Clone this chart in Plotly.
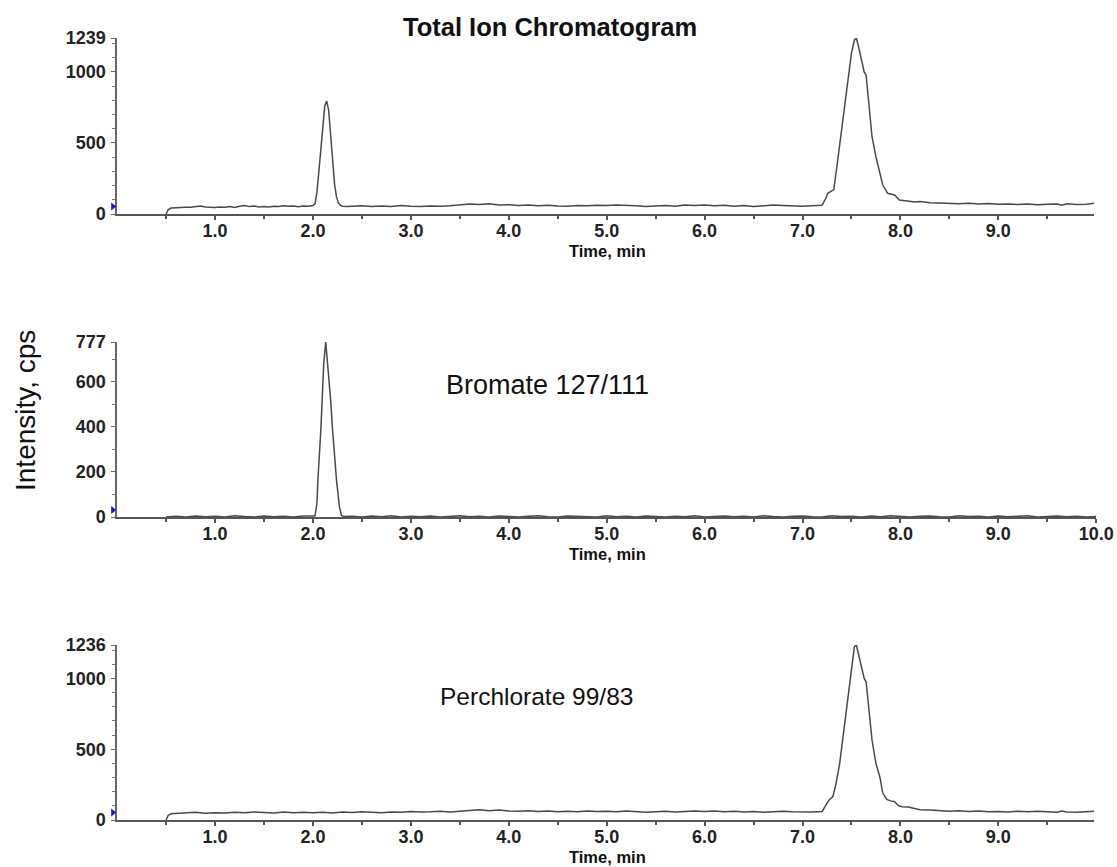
import plotly.graph_objects as go

# ---------------- data ----------------
tic_time = [0.50, 0.52, 0.55, 0.60, 0.65, 0.70, 0.75, 0.80, 0.85, 0.90, 0.95, 1.00, 1.05, 1.10, 1.15, 1.20,
            1.25, 1.30, 1.35, 1.40, 1.45, 1.50, 1.55, 1.60, 1.65, 1.70, 1.75, 1.80, 1.85, 1.90, 1.95, 2.00,
            2.02, 2.04, 2.06, 2.08, 2.10, 2.12, 2.14, 2.16, 2.18, 2.20, 2.22, 2.24, 2.26, 2.28, 2.30, 2.35,
            2.40, 2.50, 2.60, 2.70, 2.80, 2.90, 3.00, 3.10, 3.20, 3.30, 3.40, 3.50, 3.60, 3.70, 3.80, 3.90,
            4.00, 4.10, 4.20, 4.30, 4.40, 4.50, 4.60, 4.70, 4.80, 4.90, 5.00, 5.10, 5.20, 5.30, 5.40, 5.50,
            5.60, 5.70, 5.80, 5.90, 6.00, 6.10, 6.20, 6.30, 6.40, 6.50, 6.60, 6.70, 6.80, 6.90, 7.00, 7.10,
            7.15, 7.20, 7.23, 7.26, 7.29, 7.32, 7.36, 7.41, 7.46, 7.50, 7.53, 7.55, 7.57, 7.60, 7.63, 7.65,
            7.68, 7.71, 7.75, 7.79, 7.82, 7.87, 7.90, 7.94, 7.99, 8.02, 8.08, 8.15, 8.20, 8.30, 8.40, 8.50,
            8.60, 8.70, 8.80, 8.90, 9.00, 9.10, 9.20, 9.30, 9.40, 9.50, 9.60, 9.65, 9.70, 9.80, 9.90, 9.98]
tic_intensity = [0, 30, 42, 45, 44, 48, 47, 50, 56, 49, 47, 45, 50, 48, 52, 46,
                 55, 60, 52, 56, 50, 53, 49, 55, 52, 58, 54, 57, 51, 56, 54, 60,
                 72, 150, 300, 470, 640, 760, 795, 730, 560, 370, 210, 120, 78, 62, 55, 52,
                 55, 58, 52, 56, 53, 60, 55, 52, 57, 54, 58, 62, 70, 66, 72, 63,
                 65, 60, 63, 58, 62, 57, 55, 60, 58, 62, 60, 64, 62, 58, 52, 57,
                 60, 55, 63, 60, 64, 58, 62, 55, 60, 52, 58, 63, 60, 57, 55, 58,
                 60, 62, 100, 146, 160, 172, 380, 660, 943, 1133, 1225, 1239, 1185, 1080, 1000, 975,
                 760, 544, 403, 300, 204, 146, 140, 134, 99, 96, 92, 85, 88, 80, 78, 75,
                 72, 76, 70, 74, 68, 70, 66, 70, 65, 68, 70, 62, 72, 66, 68, 75]

bromate_time = [0.50, 0.60, 0.70, 0.80, 0.90, 1.00, 1.10, 1.20, 1.30, 1.40, 1.50, 1.60, 1.70, 1.80, 1.90,
                2.00, 2.02, 2.04, 2.05, 2.08, 2.11, 2.13, 2.15, 2.18, 2.20, 2.22, 2.24, 2.27, 2.29, 2.31,
                2.40, 2.50, 2.60, 2.70, 2.80, 2.90, 3.00, 3.10, 3.20, 3.30, 3.40, 3.50, 3.60, 3.70, 3.80,
                3.90, 4.00, 4.10, 4.20, 4.30, 4.40, 4.50, 4.60, 4.70, 4.80, 4.90, 5.00, 5.10, 5.20, 5.30,
                5.40, 5.50, 5.60, 5.70, 5.80, 5.90, 6.00, 6.10, 6.20, 6.30, 6.40, 6.50, 6.60, 6.70, 6.80,
                6.90, 7.00, 7.10, 7.20, 7.30, 7.40, 7.50, 7.60, 7.70, 7.80, 7.90, 8.00, 8.10, 8.20, 8.30,
                8.40, 8.50, 8.60, 8.70, 8.80, 8.90, 9.00, 9.10, 9.20, 9.30, 9.40, 9.50, 9.60, 9.70, 9.80,
                9.90, 10.00]
bromate_intensity = [0, 3, 0, 4, 1, 3, 0, 5, 2, 0, 4, 1, 3, 0, 4,
                     2, 4, 60, 164, 386, 684, 777, 684, 520, 386, 270, 164, 46, 8, 2,
                     3, 0, 4, 1, 5, 0, 3, 1, 4, 0, 2, 5, 1, 3, 0,
                     4, 2, 0, 3, 5, 1, 0, 4, 2, 3, 0, 5, 1, 3, 0,
                     4, 2, 0, 3, 1, 5, 0, 2, 4, 1, 3, 0, 5, 2, 0,
                     3, 4, 1, 0, 5, 2, 3, 0, 4, 1, 5, 2, 0, 3, 4,
                     1, 0, 5, 2, 3, 0, 4, 1, 3, 5, 0, 2, 4, 1, 3,
                     0, 2]

perc_time = [0.50, 0.52, 0.55, 0.60, 0.70, 0.80, 0.90, 1.00, 1.10, 1.20, 1.30, 1.40, 1.50, 1.60, 1.70, 1.80,
             1.90, 2.00, 2.10, 2.20, 2.30, 2.40, 2.50, 2.60, 2.70, 2.80, 2.90, 3.00, 3.10, 3.20, 3.30, 3.40,
             3.50, 3.60, 3.70, 3.80, 3.90, 4.00, 4.10, 4.20, 4.30, 4.40, 4.50, 4.60, 4.70, 4.80, 4.90, 5.00,
             5.10, 5.20, 5.30, 5.40, 5.50, 5.60, 5.70, 5.80, 5.90, 6.00, 6.10, 6.20, 6.30, 6.40, 6.50, 6.60,
             6.70, 6.80, 6.90, 7.00, 7.10, 7.20, 7.23, 7.27, 7.31, 7.34, 7.38, 7.42, 7.46, 7.50, 7.53, 7.55,
             7.57, 7.60, 7.63, 7.65, 7.68, 7.71, 7.75, 7.79, 7.82, 7.86, 7.90, 7.94, 7.98, 8.02, 8.08, 8.15,
             8.20, 8.30, 8.40, 8.50, 8.60, 8.70, 8.80, 8.90, 9.00, 9.10, 9.20, 9.30, 9.40, 9.50, 9.60, 9.65,
             9.70, 9.80, 9.90, 9.98]
perc_intensity = [0, 32, 44, 47, 50, 54, 48, 52, 49, 55, 51, 57, 53, 50, 56, 52,
                  55, 51, 54, 50, 56, 53, 58, 54, 52, 57, 55, 60, 56, 58, 62, 57,
                  63, 68, 72, 66, 70, 64, 61, 65, 60, 63, 58, 62, 59, 64, 60, 62,
                  58, 63, 60, 55, 59, 62, 57, 61, 64, 60, 63, 58, 61, 56, 60, 55,
                  59, 62, 58, 55, 57, 60, 95, 140, 165, 250, 400, 620, 880, 1100, 1225, 1236,
                  1180, 1090, 1000, 975, 760, 565, 400, 305, 190, 145, 135, 130, 100, 94, 92, 78,
                  72, 70, 65, 62, 66, 60, 63, 58, 60, 57, 61, 58, 62, 57, 55, 63,
                  56, 54, 57, 62]

panel_titles = ["Total Ion Chromatogram", "Bromate 127/111", "Perchlorate 99/83"]
y_max = [1239, 777, 1236]
y_major = [[0, 500, 1000, 1239], [0, 200, 400, 600, 777], [0, 500, 1000, 1236]]
x_ticks_top = [1.0, 2.0, 3.0, 4.0, 5.0, 6.0, 7.0, 8.0, 9.0]
x_ticks_mid = [1.0, 2.0, 3.0, 4.0, 5.0, 6.0, 7.0, 8.0, 9.0, 10.0]
x_minor = [0.5, 1.5, 2.5, 3.5, 4.5, 5.5, 6.5, 7.5, 8.5, 9.5]
x_max = [9.98, 10.0, 9.98]
start_marker_y = [53, 31, 53]

# ---------------- layout helpers ----------------
W, H = 1117, 867
FONT = "Liberation Sans, Arial, sans-serif"
LINE = "#484848"


def px_x(p):
    return p / W


def px_y(p):
    return 1 - p / H


x0_px = 117.2
px_per_min = 97.9
panels_px = [(38, 214), (342, 517), (645, 820)]

fig = go.Figure()

series = [(tic_time, tic_intensity), (bromate_time, bromate_intensity), (perc_time, perc_intensity)]
shapes = []
for i, (t, v) in enumerate(series):
    n = "" if i == 0 else str(i + 1)
    fig.add_trace(go.Scatter(x=t, y=v, mode="lines", line=dict(color=LINE, width=1.5),
                             xaxis="x" + n, yaxis="y" + n, showlegend=False, hoverinfo="skip"))
    # small blue start-of-trace pointer on the y axis
    shapes.append(dict(type="path", xref="paper", yref="y" + n, xsizemode="pixel", ysizemode="pixel",
                       xanchor=px_x(x0_px), yanchor=start_marker_y[i], path="M -6,-4 L -1,0 L -6,4 Z",
                       fillcolor="#1414d8", line=dict(width=0), layer="above"))

    top, bot = panels_px[i]
    xticks = x_ticks_mid if i == 1 else x_ticks_top
    x_end_px = x0_px + x_max[i] * px_per_min
    fig.layout["xaxis" + n] = dict(
        domain=[px_x(x0_px), px_x(x_end_px)], range=[0, x_max[i]], anchor="y" + n,
        automargin=False,
        showgrid=False, zeroline=False, showline=True, linecolor="#555555", linewidth=2,
        ticks="outside", ticklen=4, tickwidth=1.5, tickcolor="#555555",
        tickvals=xticks, ticktext=["%.1f" % v for v in xticks],
        tickfont=dict(family=FONT, size=18, color="#222222", weight="bold"),
        minor=dict(tickvals=x_minor, ticks="outside", ticklen=3, tickcolor="#555555", tickwidth=1.5),
        ticklabelstandoff=-5,
        fixedrange=True,
    )
    minor_vals = list(range(100, int(y_max[i]), 100))
    fig.layout["yaxis" + n] = dict(
        domain=[px_y(bot), px_y(top)], range=[0, y_max[i]], anchor="x" + n,
        automargin=False,
        showgrid=False, zeroline=False, showline=True, linecolor="#666666", linewidth=1.5,
        ticks="outside", ticklen=4, tickwidth=1.2, tickcolor="#666666",
        tickvals=y_major[i], ticktext=[str(v) for v in y_major[i]],
        tickfont=dict(family=FONT, size=18, color="#222222", weight="bold"),
        minor=dict(tickvals=minor_vals, ticks="outside", ticklen=3, tickcolor="#777777", tickwidth=1),
        ticklabelstandoff=2,
        fixedrange=True,
    )

annotations = [
    dict(text=panel_titles[0], x=px_x(550), y=px_y(27), font=dict(size=25.5, weight="bold")),
    dict(text=panel_titles[1], x=px_x(547), y=px_y(385), font=dict(size=27)),
    dict(text=panel_titles[2], x=px_x(536), y=px_y(696), font=dict(size=24.5)),
    dict(text="Time, min", x=px_x(607), y=px_y(251), font=dict(size=16.5, weight="bold")),
    dict(text="Time, min", x=px_x(607), y=px_y(554), font=dict(size=16.5, weight="bold")),
    dict(text="Time, min", x=px_x(607), y=px_y(857), font=dict(size=16.5, weight="bold")),
    dict(text="Intensity, cps", x=px_x(26), y=px_y(411), textangle=-90, font=dict(size=28)),
]
for a in annotations:
    a.update(xref="paper", yref="paper", showarrow=False, xanchor="center", yanchor="middle")
    a["font"].update(family=FONT, color="#111111")

fig.update_layout(
    width=W, height=H, margin=dict(l=0, r=0, t=0, b=0, autoexpand=False),
    paper_bgcolor="white", plot_bgcolor="white", showlegend=False,
    annotations=annotations, shapes=shapes,
)

fig.write_html("out.html", config={"displayModeBar": False})
